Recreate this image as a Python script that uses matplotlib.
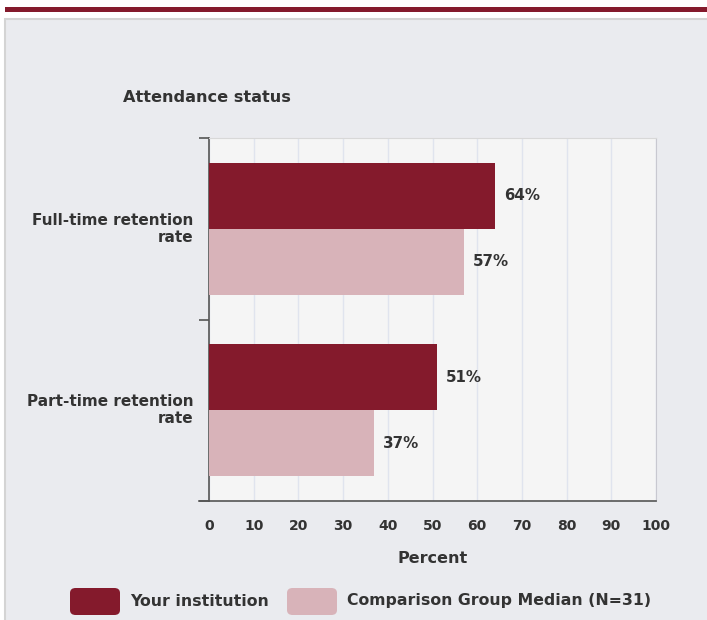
import numpy as np
import matplotlib
matplotlib.use('Agg')
import matplotlib.pyplot as plt
from matplotlib.patches import Rectangle, FancyBboxPatch

categories = ['Full-time retention\nrate', 'Part-time retention\nrate']
your_institution = [64, 51]
comparison_median = [57, 37]
series_names = ['Your institution', 'Comparison Group Median (N=31)']
x_ticks = [0, 10, 20, 30, 40, 50, 60, 70, 80, 90, 100]

maroon = '#841A2C'
pink = '#D8B3B9'
text_col = '#333333'
W, H = 707, 620

plt.rcParams['font.family'] = ['DejaVu Sans']
plt.rcParams['font.weight'] = 'bold'
plt.rcParams['axes.labelweight'] = 'bold'

fig = plt.figure(figsize=(W / 100, H / 100), dpi=100)
fig.patch.set_facecolor('white')

# top stripe and grey panel (behind the axes)
fig.patches.append(Rectangle((5 / W, 1 - 12 / H), 1, 5 / H, transform=fig.transFigure,
                             facecolor=maroon, edgecolor='none', zorder=-2))
fig.patches.append(Rectangle((5 / W, -0.01), 1, 1 - 19 / H + 0.01, transform=fig.transFigure,
                             facecolor='#EAEBEF', edgecolor='#D4D4D4', linewidth=1.5, zorder=-2))

ax = fig.add_axes([209 / W, (H - 501) / H, (656 - 209) / W, (501 - 138) / H])
ax.set_facecolor('#F5F5F5')

y = np.arange(len(categories))
h = 0.365
ax.barh(y - h / 2, your_institution, height=h, color=maroon, zorder=3)
ax.barh(y + h / 2, comparison_median, height=h, color=pink, zorder=3)

for i in range(len(categories)):
    ax.text(your_institution[i] + 2, y[i] - h / 2, f'{your_institution[i]}%',
            va='center', ha='left', fontsize=10.8, color=text_col)
    ax.text(comparison_median[i] + 2, y[i] + h / 2, f'{comparison_median[i]}%',
            va='center', ha='left', fontsize=10.8, color=text_col)

ax.set_xlim(0, 100)
ax.set_ylim(1.5, -0.5)
ax.set_xticks(x_ticks)
ax.tick_params(axis='x', length=0, pad=13, labelsize=10, labelcolor=text_col)
ax.set_yticks([-0.5, 0.5, 1.5])
ax.set_yticklabels([])
ax.tick_params(axis='y', length=7, width=1.2, color='#555555')
for i, c in enumerate(categories):
    ax.text(-0.035, y[i], c, transform=ax.get_yaxis_transform(), ha='right', va='center',
            fontsize=11, color=text_col, linespacing=1.2)

ax.grid(axis='x', color='#E0E4EE', linewidth=1, zorder=0)
ax.spines['left'].set_color('#555555')
ax.spines['left'].set_linewidth(1.2)
ax.spines['bottom'].set_color('#555555')
ax.spines['bottom'].set_linewidth(1.2)
ax.spines['top'].set_color('#D8D8D8')
ax.spines['right'].set_color('#C8C8D0')
ax.plot([-0.023, 0], [0, 0], transform=ax.transAxes, color='#555555', lw=1.2, clip_on=False)

ax.set_xlabel('Percent', fontsize=11.5, color=text_col, labelpad=13)
fig.text(123 / W, 1 - 98 / H, 'Attendance status', ha='left', va='center',
         fontsize=11.6, color=text_col)

# legend
for (x0, xt), name, col in zip([(70, 130), (287, 347)], series_names, [maroon, pink]):
    fig.patches.append(FancyBboxPatch((x0 / W, 1 - 615 / H), 50 / W, 27 / H,
                                      boxstyle='round,pad=0,rounding_size=0.008',
                                      transform=fig.transFigure, facecolor=col, edgecolor='none'))
    fig.text(xt / W, 1 - 601 / H, name, ha='left', va='center', fontsize=11.3, color=text_col)

fig.savefig('out.png', dpi=100)
